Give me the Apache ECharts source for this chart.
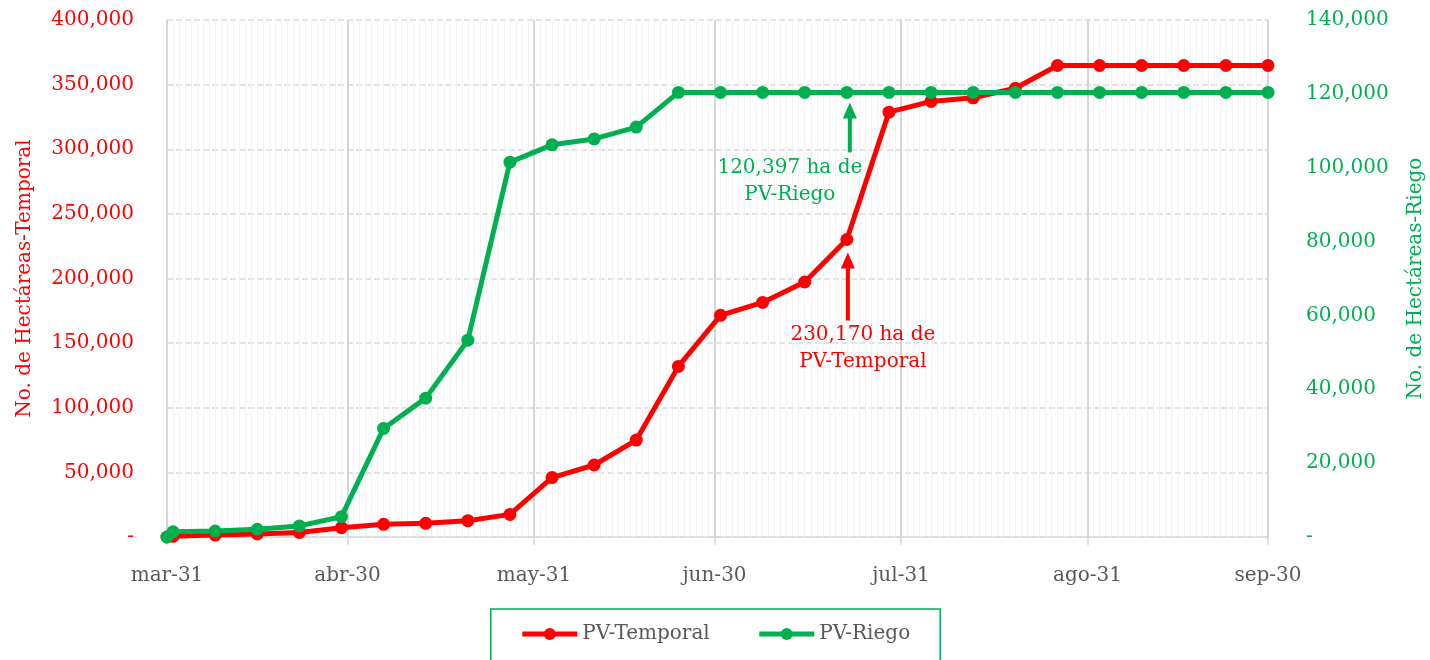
<!DOCTYPE html>
<html><head><meta charset="utf-8">
<script src="https://cdn.jsdelivr.net/npm/echarts@6/dist/echarts.min.js"></script>
<style>html,body{margin:0;padding:0;background:#fff}#c{width:1430px;height:660px}</style>
</head><body><div id="c"></div>
<script>
// ---- data ----
const startDate = '2023-03-31';
const endDate = '2023-09-30';
const sampleDates = ['2023-03-31','2023-04-01','2023-04-08','2023-04-15','2023-04-22','2023-04-29',
  '2023-05-06','2023-05-13','2023-05-20','2023-05-27','2023-06-03','2023-06-10','2023-06-17','2023-06-24',
  '2023-07-01','2023-07-08','2023-07-15','2023-07-22','2023-07-29','2023-08-05','2023-08-12','2023-08-19',
  '2023-08-26','2023-09-02','2023-09-09','2023-09-16','2023-09-23','2023-09-30'];
const pvTemporal = [0,500,1500,2300,3500,7200,9800,10600,12600,17500,46000,55700,75000,132000,171500,181500,
  197300,230170,328700,337000,339800,347200,364800,364800,364800,364800,364800,364800];
const pvRiego = [0,1400,1600,2100,3000,5500,29400,37600,53300,101500,106200,107800,111000,120397,120397,120397,
  120397,120397,120397,120397,120397,120397,120397,120397,120397,120397,120397,120397];
const monthEnds = ['2023-03-31','2023-04-30','2023-05-31','2023-06-30','2023-07-31','2023-08-31','2023-09-30'];
const tickLabels = ['mar-31','abr-30','may-31','jun-30','jul-31','ago-31','sep-30'];
const annotationDate = '2023-07-22';
const seriesNames = ['PV-Temporal','PV-Riego'];
const axisNames = ['No. de Hectáreas-Temporal','No. de Hectáreas-Riego'];

// ---- build ----
const categories = [];
for (let t = Date.parse(startDate + 'T00:00:00Z'); t <= Date.parse(endDate + 'T00:00:00Z'); t += 86400000) {
  categories.push(new Date(t).toISOString().slice(0, 10));
}
const fullSeries = vals => categories.map(d => { const i = sampleDates.indexOf(d); return i >= 0 ? vals[i] : null; });
const isMonthEnd = (i, v) => monthEnds.indexOf(categories[i]) >= 0;
const fmt = v => v === 0 ? '-' : String(v).replace(/\B(?=(\d{3})+(?!\d))/g, ',');
const RED = '#ff0000', GREEN = '#00b050', GRAY = '#595959';
const FONT = 'DejaVu Serif';
const FS = 20;

const chart = echarts.init(document.getElementById('c'), null, {renderer: 'canvas'});
chart.setOption({
  animation: false,
  textStyle: {fontFamily: FONT},
  grid: {left: 167, right: 162, top: 20, bottom: 123, containLabel: false, outerBoundsMode: 'none'},
  legend: {
    left: 'center', top: 609,
    borderColor: GREEN, borderWidth: 1.5,
    padding: [15, 30, 30, 29],
    itemWidth: 55, itemHeight: 15, itemGap: 47,
    lineStyle: {width: 5},
    textStyle: {color: GRAY, fontSize: FS, fontFamily: FONT},
    data: seriesNames
  },
  xAxis: [{
    type: 'category', data: categories, boundaryGap: false,
    axisLine: {lineStyle: {color: '#d9d9d9', width: 1.5}},
    axisTick: {show: true, interval: isMonthEnd, length: 8, lineStyle: {color: '#d9d9d9', width: 1.5}},
    axisLabel: {interval: isMonthEnd, margin: 29, color: GRAY, fontSize: FS, fontFamily: FONT,
      formatter: v => tickLabels[monthEnds.indexOf(v)] || ''},
    splitLine: {show: true, interval: 0, lineStyle: {color: '#f2f2f2', width: 1}}
  }, {
    type: 'category', data: categories, boundaryGap: false, position: 'bottom',
    axisLine: {show: false}, axisTick: {show: false}, axisLabel: {show: false},
    splitLine: {show: true, interval: isMonthEnd, lineStyle: {color: '#d6d6d6', width: 2}}
  }],
  yAxis: [{
    type: 'value', min: 0, max: 400000, interval: 50000,
    axisLine: {show: false}, axisTick: {show: false},
    axisLabel: {color: RED, fontSize: FS, fontFamily: FONT, margin: 33, formatter: fmt},
    splitLine: {show: true, lineStyle: {color: '#d9d9d9', width: 1.5, type: [6, 3]}},
    name: axisNames[0], nameLocation: 'middle', nameGap: 132, nameRotate: 90,
    nameTextStyle: {color: RED, fontSize: FS, fontFamily: FONT}
  }, {
    type: 'value', min: 0, max: 140000, interval: 20000, position: 'right',
    axisLine: {show: false}, axisTick: {show: false},
    axisLabel: {color: GREEN, fontSize: FS, fontFamily: FONT, margin: 38, formatter: fmt},
    splitLine: {show: false},
    name: axisNames[1], nameLocation: 'middle', nameGap: 138, nameRotate: 90,
    nameTextStyle: {color: GREEN, fontSize: FS, fontFamily: FONT}
  }],
  series: [{
    name: seriesNames[0], type: 'line', xAxisIndex: 0, yAxisIndex: 0,
    data: fullSeries(pvTemporal), connectNulls: true, showAllSymbol: true,
    symbol: 'circle', symbolSize: 13,
    lineStyle: {color: RED, width: 5}, itemStyle: {color: RED}, z: 3
  }, {
    name: seriesNames[1], type: 'line', xAxisIndex: 0, yAxisIndex: 1,
    data: fullSeries(pvRiego), connectNulls: true, showAllSymbol: true,
    symbol: 'circle', symbolSize: 13,
    lineStyle: {color: GREEN, width: 5}, itemStyle: {color: GREEN}, z: 4
  }]
});

// ---- annotations anchored to data ----
const ai = categories.indexOf(annotationDate);
const si = sampleDates.indexOf(annotationDate);
const pG = chart.convertToPixel({seriesIndex: 1}, [ai, pvRiego[si]]);
const pR = chart.convertToPixel({seriesIndex: 0}, [ai, pvTemporal[si]]);
function arrow(x, tip, tail, color) {
  return [
    {type: 'line', shape: {x1: x, y1: tip + 10, x2: x, y2: tail}, style: {stroke: color, lineWidth: 4}},
    {type: 'polygon', shape: {points: [[x, tip], [x - 7, tip + 16], [x + 7, tip + 16]]}, style: {fill: color}}
  ];
}
chart.setOption({
  graphic: [
    ...arrow(pG[0] + 3, pG[1] + 10, pG[1] + 60, GREEN),
    ...arrow(pR[0] + 1, pR[1] + 13, pR[1] + 81, RED),
    {type: 'text', x: pG[0] - 57, y: pG[1] + 62,
      style: {text: fmt(pvRiego[si]) + ' ha de\n' + seriesNames[1], fill: GREEN, font: FS + 'px "' + FONT + '"',
        textAlign: 'center', textVerticalAlign: 'top', lineHeight: 27}},
    {type: 'text', x: pR[0] + 16, y: pR[1] + 82,
      style: {text: fmt(pvTemporal[si]) + ' ha de\n' + seriesNames[0], fill: RED, font: FS + 'px "' + FONT + '"',
        textAlign: 'center', textVerticalAlign: 'top', lineHeight: 27}}
  ]
});
</script>
</body></html>
